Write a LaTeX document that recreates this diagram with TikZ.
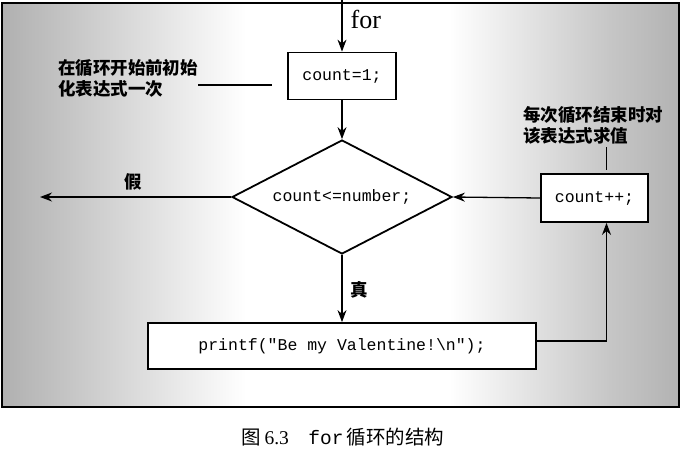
\documentclass[tikz,border=0pt]{standalone}
\usepackage{fontspec}
\setmainfont{Liberation Serif}
\setmonofont{Liberation Mono}
\newfontfamily\cjk{Noto Sans CJK SC}
\usetikzlibrary{shapes.geometric,arrows.meta}
\colorlet{pnlleft}{gray!62}
\colorlet{pnlright}{gray!60}
\pgfdeclarehorizontalshading{panelshade}{100bp}{color(0bp)=(pnlleft); color(25bp)=(pnlleft); color(30bp)=(gray!45); color(43bp)=(white); color(58bp)=(white); color(70bp)=(gray!45); color(75bp)=(pnlright); color(100bp)=(pnlright)}
\begin{document}
\begin{tikzpicture}[x=1pt, y=-1pt,
  codebox/.style={draw, line width=1.8pt, fill=white, inner sep=0pt, font=\ttfamily\fontsize{16.5}{20}\selectfont},
  testbox/.style={codebox, diamond, aspect=2, minimum width=220pt, minimum height=114pt},
  flow/.style={line width=1.3pt, -{Stealth[length=12pt, width=9pt]}},
  note/.style={font=\cjk\bfseries\fontsize{17.5}{21}\selectfont, align=left, inner sep=0pt},
  lbl/.style={font=\cjk\bfseries\fontsize{17.5}{21}\selectfont, inner sep=0pt}]
  \useasboundingbox (0,0) rectangle (686,448);
  \shade[shading=panelshade] (2,3) rectangle (679,407);
  \draw[line width=1.6pt] (2,3) rectangle (679,407);
  % flow chart
  \coordinate (forin) at (342,0);
  \node[codebox, minimum width=108pt, minimum height=47pt] (init) at (342,76) {count=1;};
  \node[testbox] (test) at (342,197) {count<=number;};
  \node[codebox, minimum width=107pt, minimum height=48pt] (update) at (594.5,198) {count++;};
  \node[codebox, minimum width=388pt, minimum height=46pt] (body) at (342,346) {printf("Be my Valentine!\textbackslash n");};
  \coordinate (exit) at (40,197);
  \draw[flow] (forin) -- node[right=8pt, pos=0.38, font=\fontsize{26}{28}\selectfont, inner sep=0pt] {for} (init.north);
  \draw[flow] (init.south) -- (test.north);
  \draw[flow] (test.south) -- node[lbl, right=8pt, pos=0.52] {真} (body.north);
  \draw[flow] (test.west) -- node[lbl, above=6pt, pos=0.51] {假} (exit);
  \draw[flow] (update.west) -- (test.east);
  \draw[flow] ([yshift=5pt]body.east) -| ([xshift=12pt]update.south);
  % notes
  \node[note] (initnote) at (128,78) {在循环开始前初始\\化表达式一次};
  \coordinate (initpt) at (272,85);
  \draw[line width=1.3pt] (initnote.east |- initpt) -- (initpt);
  \node[note] (updnote) at (593,125) {每次循环结束时对\\该表达式求值};
  \coordinate (updpt) at (606.5,170);
  \draw[line width=1.3pt] (updnote.south -| updpt) ++(0,3) -- (updpt);
  % caption
  \node[font=\fontsize{19.5}{22}\selectfont, inner sep=0pt] (caption) at (343,437) {{\cjk 图}\,6.3\quad{\ttfamily for}\,{\cjk 循环的结构}};
\end{tikzpicture}
\end{document}
